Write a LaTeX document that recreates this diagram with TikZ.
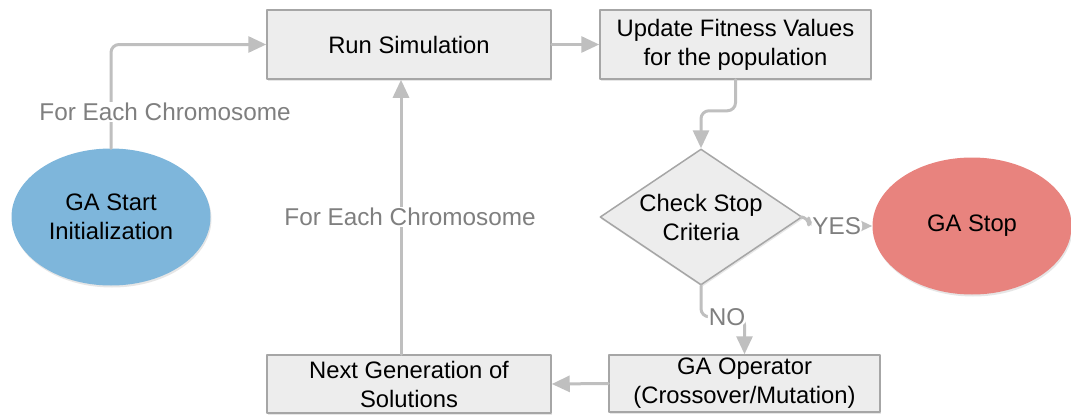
\documentclass[tikz,border=0pt]{standalone}
\usepackage{fontspec}
\setmainfont{Liberation Sans}
\usetikzlibrary{shapes.geometric,arrows.meta,shadows}
\definecolor{boxgray}{RGB}{237,237,237}
\definecolor{boxline}{RGB}{166,166,166}
\definecolor{startblue}{RGB}{126,182,219}
\definecolor{stopred}{RGB}{232,131,126}
\definecolor{flowgray}{RGB}{191,191,191}
\definecolor{lblgray}{RGB}{127,127,127}
\begin{document}
\begin{tikzpicture}[x=1pt,y=-1pt, font=\fontsize{23.8}{29}\selectfont, line join=round, line cap=round, >={Triangle[length=18pt,width=16pt]},
	box/.style={draw=boxline, line width=1.5pt, fill=boxgray, align=center, inner sep=0pt, drop shadow={opacity=.2,shadow xshift=1pt,shadow yshift=-2pt}},
	decide/.style={box, diamond, aspect=1.48, minimum width=202pt, minimum height=136pt},
	terminal/.style={ellipse, inner sep=0pt, align=center, minimum width=199pt, minimum height=137pt, drop shadow={opacity=.2,shadow xshift=1pt,shadow yshift=-2pt}},
	flow/.style={->, draw=flowgray, line width=3pt, rounded corners=8pt},
	lbl/.style={fill=white, text=lblgray, inner sep=1pt, font=\fontsize{24.3}{29}\selectfont}]
	\useasboundingbox (0,0) rectangle (1071,415); % khung anh
	\node[terminal, fill=startblue] (start) at (111,217) {GA Start\\Initialization};
	\node[box, minimum width=284pt, minimum height=69pt] (run) at (409,44.5) {Run Simulation};
	\node[box, minimum width=271pt, minimum height=69pt] (fit) at (735.5,44.5) {Update Fitness Values\\for the population};
	\node[decide] (check) at (701,217) {Check Stop\\Criteria};
	\node[terminal, fill=stopred] (stop) at (972,226) {GA Stop};
	\node[box, minimum width=271pt, minimum height=57pt] (op) at (744.5,383.5) {GA Operator\\(Crossover/Mutation)};
	\node[box, minimum width=284pt, minimum height=58pt] (next) at (409,384) {Next Generation of\\Solutions};
	% cac mui ten
	\draw[flow] (start.north) |- (run.west);
	\node[lbl] (lbla) at (165,112) {For Each Chromosome};
	\draw[flow] (run.east) -- (fit.west);
	\draw[flow] (fit.south) -- ++(0,31) -| (check.north);
	\draw[flow] (check.east) -- ++(6,0) |- node[pos=.72, lbl]{YES} (stop.west);
	\draw[flow] (check.south) -- ++(0,31) -| node[pos=.3, lbl]{NO} (op.north);
	\draw[flow] (op.west) -- (next.east);
	\draw[flow] ([xshift=-8pt]next.north) -- node[lbl, xshift=9pt]{For Each Chromosome} ([xshift=-8pt]run.south);
\end{tikzpicture}
\end{document}
